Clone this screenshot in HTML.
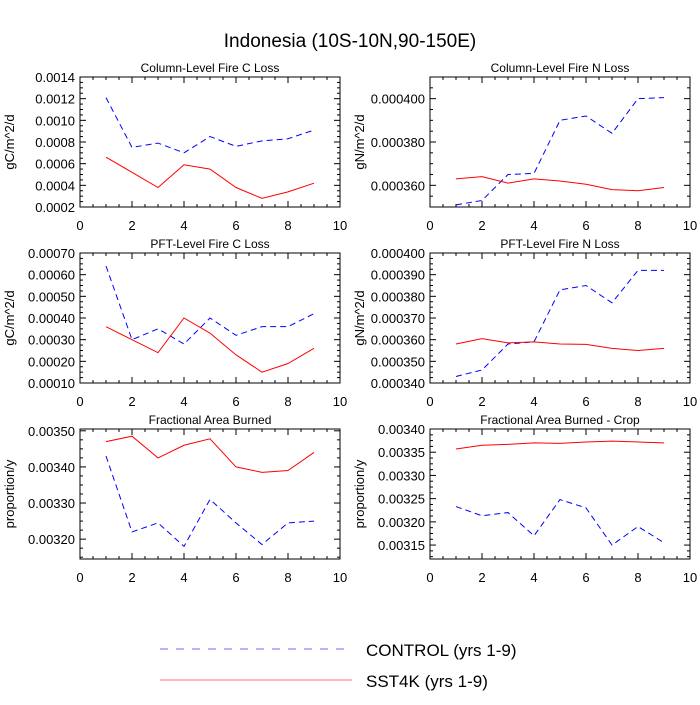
<!DOCTYPE html>
<html><head><meta charset="utf-8"><style>
body{margin:0;background:#fff;}
svg{font-family:"Liberation Sans",sans-serif;}
</style></head><body>
<svg id="chart" width="700" height="700" xmlns="http://www.w3.org/2000/svg">
<text x="350" y="47" font-size="19" text-anchor="middle">Indonesia (10S-10N,90-150E)</text>
<g id="panels"></g>
<line x1="160" y1="649" x2="352" y2="649" stroke="#6a6aff" stroke-dasharray="8,8"/>
<text x="366" y="656" font-size="17">CONTROL (yrs 1-9)</text>
<line x1="160" y1="680" x2="352" y2="680" stroke="#ff7070"/>
<text x="366" y="687" font-size="17">SST4K (yrs 1-9)</text>
</svg>
<script>
const years=[1,2,3,4,5,6,7,8,9];
const titles=["Column-Level Fire C Loss","Column-Level Fire N Loss","PFT-Level Fire C Loss","PFT-Level Fire N Loss","Fractional Area Burned","Fractional Area Burned - Crop"];
const units=["gC/m^2/d","gN/m^2/d","gC/m^2/d","gN/m^2/d","proportion/y","proportion/y"];
const controlCColumn=[0.00121,0.00075,0.00079,0.00070,0.00085,0.00076,0.00081,0.00083,0.00091];
const sst4kCColumn=[0.00066,0.00052,0.00038,0.00059,0.00055,0.00038,0.00028,0.00034,0.00042];
const controlNColumn=[0.000351,0.000353,0.000365,0.0003655,0.00039,0.000392,0.000384,0.0004,0.0004005];
const sst4kNColumn=[0.000363,0.000364,0.000361,0.000363,0.000362,0.0003605,0.000358,0.0003575,0.000359];
const controlCPft=[0.00064,0.00030,0.00035,0.00028,0.00040,0.00032,0.00036,0.00036,0.00042];
const sst4kCPft=[0.00036,0.00030,0.00024,0.00040,0.00033,0.00023,0.00015,0.00019,0.00026];
const controlNPft=[0.000343,0.000346,0.000358,0.000359,0.000383,0.000385,0.000377,0.000392,0.000392];
const sst4kNPft=[0.000358,0.0003605,0.0003585,0.000359,0.000358,0.0003578,0.000356,0.000355,0.000356];
const controlBurned=[0.00343,0.00322,0.003245,0.00318,0.00331,0.003245,0.003185,0.003245,0.00325];
const sst4kBurned=[0.00347,0.003485,0.003425,0.00346,0.003478,0.0034,0.003385,0.00339,0.00344];
const controlCrop=[0.003233,0.003213,0.00322,0.00317,0.003248,0.00323,0.00315,0.00319,0.003155];
const sst4kCrop=[0.003357,0.003365,0.003367,0.00337,0.003369,0.003372,0.003374,0.003372,0.00337];
const xTicks=[0,2,4,6,8,10];
const yRanges=[[0.0002,0.0014],[0.00035,0.00041],[0.0001,0.0007],[0.00034,0.0004],[0.003145,0.003505],[0.00312,0.0034]];
const yTickSteps=[0.0002,0.00002,0.0001,0.00001,0.0001,0.00005];
const yDecimals=[4,6,5,6,5,5];

const controls=[controlCColumn,controlNColumn,controlCPft,controlNPft,controlBurned,controlCrop];
const ssts=[sst4kCColumn,sst4kNColumn,sst4kCPft,sst4kNPft,sst4kBurned,sst4kCrop];
const NS="http://www.w3.org/2000/svg";
const root=document.getElementById('panels');
function mk(tag,attrs,parent){const e=document.createElementNS(NS,tag);for(const k in attrs)e.setAttribute(k,attrs[k]);parent.appendChild(e);return e;}
const lefts=[80,430],tops=[77,253,429],W=260,H=130;
for(let i=0;i<6;i++){
  const L=lefts[i%2],T=tops[Math.floor(i/2)],R=L+W,B=T+H;
  const [y0,y1]=yRanges[i];
  const sx=v=>L+v/10*W, sy=v=>B-(v-y0)/(y1-y0)*H;
  const g=mk('g',{},root);
  
  
  const fr=mk('rect',{x:L,y:T,width:W,height:H,fill:'none',stroke:'#000','stroke-width':1},g);
  
  
  const t=mk('text',{x:L+W/2,y:T-5,'font-size':12,'text-anchor':'middle'},g);t.textContent=titles[i];
  
  
  const yl=mk('text',{x:0,y:0,'font-size':13,'text-anchor':'middle',transform:`translate(${L-66},${T+H/2}) rotate(-90)`},g);yl.textContent=units[i];
  
  
  for(const v of xTicks){
    const x=sx(v);
    mk('line',{x1:x,y1:B,x2:x,y2:B-6,stroke:'#000'},g);
    mk('line',{x1:x,y1:T,x2:x,y2:T+6,stroke:'#000'},g);
    const tl=mk('text',{x:x,y:B+23,'font-size':13,'text-anchor':'middle'},g);tl.textContent=v;
    
    
  }
  for(let v=0.5;v<10;v+=0.5){ if(v%2===0)continue; const x=sx(v);
    mk('line',{x1:x,y1:B,x2:x,y2:B-3,stroke:'#000'},g);mk('line',{x1:x,y1:T,x2:x,y2:T+3,stroke:'#000'},g);}
  const st=yTickSteps[i];
  const minor=st/4;
  for(let k=Math.ceil(y0/minor-1e-6);k*minor<=y1+1e-12;k++){
    const v=k*minor,y=sy(v);
    const major=Math.abs(v/st-Math.round(v/st))<1e-6;
    const len=major?6:3;
    mk('line',{x1:L,y1:y,x2:L+len,y2:y,stroke:'#000'},g);
    mk('line',{x1:R,y1:y,x2:R-len,y2:y,stroke:'#000'},g);
    if(major){const tl=mk('text',{x:L-5,y:y+5,'font-size':13,'text-anchor':'end'},g);tl.textContent=v.toFixed(yDecimals[i]);
      
      }
  }
  const pc=years.map((x,j)=>sx(x)+','+sy(controls[i][j])).join(' ');
  const lc=mk('polyline',{points:pc,fill:'none',stroke:'blue','stroke-dasharray':'6,4','stroke-width':1},g);
  
  
  const ps=years.map((x,j)=>sx(x)+','+sy(ssts[i][j])).join(' ');
  const ls=mk('polyline',{points:ps,fill:'none',stroke:'red','stroke-width':1},g);
  
  
}
</script>
</body></html>
